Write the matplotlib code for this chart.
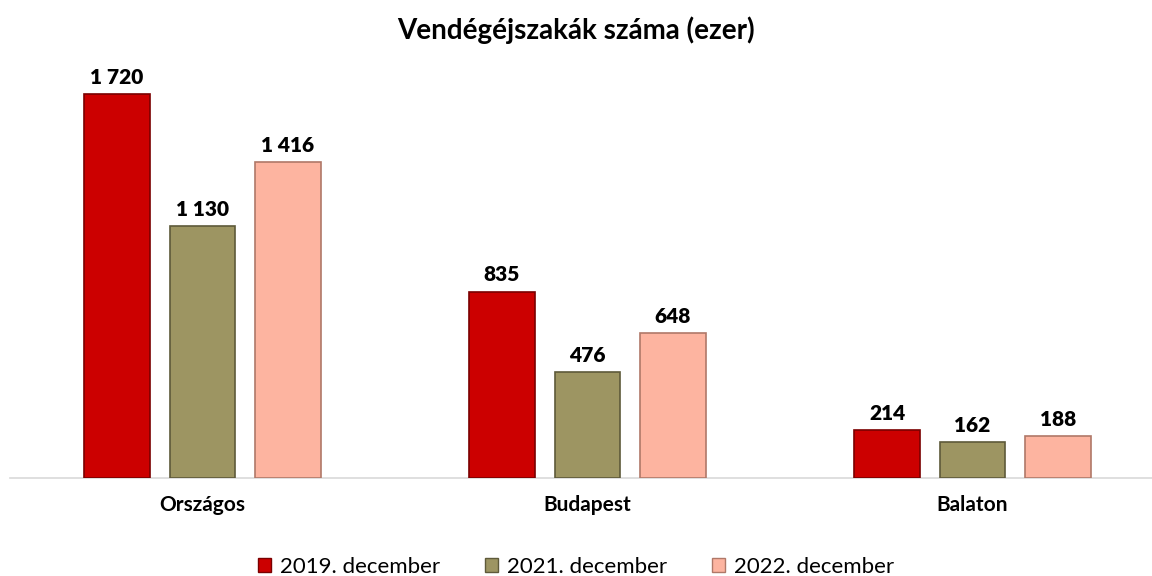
import numpy as np
import matplotlib
matplotlib.use("Agg")
import matplotlib.pyplot as plt
from matplotlib.patches import Patch

# ── data ────────────────────────────────────────────────────────────────
categories = ["Országos", "Budapest", "Balaton"]
series_names = ["2019. december", "2021. december", "2022. december"]
v2019 = [1720, 835, 214]
v2021 = [1130, 476, 162]
v2022 = [1416, 648, 188]

# ── style ───────────────────────────────────────────────────────────────
COLORS = ["#CC0000", "#9D9562", "#FDB4A0"]
EDGES = ["#7A0000", "#5E5A3A", "#B07868"]
FONT = ["Lato", "DejaVu Sans"]
plt.rcParams["font.family"] = FONT

fig = plt.figure(figsize=(11.52, 5.76), dpi=100)
ax = fig.add_axes([10 / 1152, 98 / 576, 1155 / 1152, 446.6 / 576])

x = np.arange(len(categories))
width = 0.171
step = 0.222

for i, (vals, col, edge, name) in enumerate(zip([v2019, v2021, v2022], COLORS, EDGES, series_names)):
    pos = x + (i - 1) * step
    bars = ax.bar(pos, vals, width=width, color=col, edgecolor=edge,
                  linewidth=1.2, label=name, zorder=3)
    for b, v in zip(bars, vals):
        txt = f"{v:,}".replace(",", " ")
        ax.text(b.get_x() + b.get_width() / 2, v + 32, txt, ha="center",
                va="bottom", fontsize=15, fontweight="heavy", color="#000000")

ax.set_xlim(-0.5, 2.5)
ax.set_ylim(0, 2000)
for s in ["top", "right", "left"]:
    ax.spines[s].set_visible(False)
ax.spines["bottom"].set_color("#D9D9D9")
ax.spines["bottom"].set_linewidth(1.2)
ax.set_yticks([])
ax.set_xticks(x)
ax.set_xticklabels(categories, fontsize=15, fontweight="bold")
ax.tick_params(axis="x", length=0, pad=12)

fig.text(0.5, 1 - 30 / 576, "Vendégéjszakák száma (ezer)", ha="center",
         va="center", fontsize=20, fontweight="bold")

handles = [Patch(facecolor=c, edgecolor=e, linewidth=1) for c, e in zip(COLORS, EDGES)]
fig.legend(handles, series_names, loc="center", bbox_to_anchor=(0.5, 1 - 567 / 576),
           ncol=3, frameon=False, fontsize=16, handlelength=0.6, handleheight=0.6,
           handletextpad=0.4, columnspacing=2.0)

fig.savefig("out.png", dpi=100)
